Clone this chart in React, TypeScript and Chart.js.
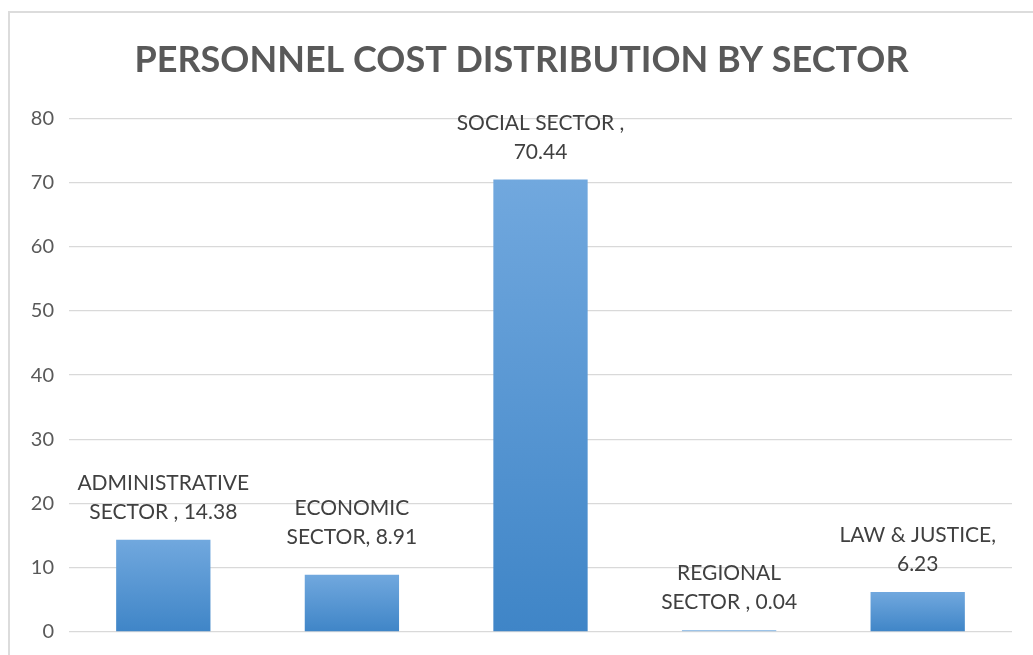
import { useEffect, useRef } from "react";
import { Chart, registerables } from "chart.js";

Chart.register(...registerables);

const chartTitle = "PERSONNEL COST DISTRIBUTION BY SECTOR";
const categories = ["ADMINISTRATIVE SECTOR", "ECONOMIC SECTOR", "SOCIAL SECTOR", "REGIONAL SECTOR", "LAW & JUSTICE"];
const values = [14.38, 8.91, 70.44, 0.04, 6.23];
const labelLines = [
  ["ADMINISTRATIVE", "SECTOR , 14.38"],
  ["ECONOMIC", "SECTOR, 8.91"],
  ["SOCIAL SECTOR ,", "70.44"],
  ["REGIONAL", "SECTOR , 0.04"],
  ["LAW & JUSTICE,", "6.23"],
];
const labelLift = [0, 10, 0, 0, 0];
const yMin = 0;
const yMax = 80;
const yStep = 10;

const FONT = "Lato, 'Open Sans', sans-serif";

const dataLabelPlugin = {
  id: "dataLabels",
  afterDatasetsDraw(chart: any) {
    const ctx = chart.ctx;
    const meta = chart.getDatasetMeta(0);
    const zeroY = chart.scales.y.getPixelForValue(0);
    ctx.save();
    ctx.font = `21px ${FONT}`;
    ctx.fillStyle = "#404040";
    ctx.textAlign = "center";
    ctx.textBaseline = "alphabetic";
    meta.data.forEach((bar: any, i: number) => {
      const lines = labelLines[i];
      const top = Math.min(bar.y, zeroY);
      const base = top - 21 - labelLift[i];
      lines.forEach((line, j) => {
        const y = base - (lines.length - 1 - j) * 29;
        ctx.fillText(line, bar.x, y);
      });
    });
    ctx.restore();
  },
};

export default function App() {
  const ref = useRef<HTMLCanvasElement | null>(null);

  useEffect(() => {
    if (!ref.current) return;
    const chart = new Chart(ref.current, {
      type: "bar",
      data: {
        labels: categories,
        datasets: [
          {
            data: values,
            backgroundColor: (c: any) => {
              const ch = c.chart;
              const ys = ch.scales?.y;
              if (!ys || c.type !== "data") return "#5b9bd5";
              const top = ys.getPixelForValue(c.parsed?.y ?? values[c.dataIndex]);
              const bottom = ys.getPixelForValue(0);
              if (!isFinite(top) || !isFinite(bottom) || bottom - top < 1) return "#9cc3e8";
              const g = ch.ctx.createLinearGradient(0, top, 0, bottom);
              g.addColorStop(0, "#71a8de");
              g.addColorStop(1, "#3f85c7");
              return g;
            },
            borderWidth: 0,
            minBarLength: 2,
            barPercentage: 0.5,
            categoryPercentage: 1,
          },
        ],
      },
      options: {
        animation: false,
        responsive: false,
        maintainAspectRatio: false,
        layout: { padding: { left: 21, right: 21, top: 0, bottom: 23 } },
        plugins: {
          legend: { display: false },
          tooltip: { enabled: false },
          title: {
            display: true,
            text: chartTitle,
            color: "#595959",
            font: { family: FONT, size: 36, weight: "bold" },
            padding: { top: 26, bottom: 36 },
          },
        },
        scales: {
          x: { display: false },
          y: {
            min: yMin,
            max: yMax,
            ticks: {
              stepSize: yStep,
              color: "#595959",
              font: { family: FONT, size: 20 },
              padding: 15,
            },
            grid: { color: "#d9d9d9", lineWidth: 1.3, drawTicks: false },
            border: { display: false },
            afterFit: (s: any) => {
              s.width = 38;
              s.paddingTop = 0;
              s.paddingBottom = 0;
            },
          },
        },
      },
      plugins: [dataLabelPlugin],
    });
    return () => chart.destroy();
  }, []);

  return (
    <div
      style={{
        position: "absolute",
        left: 8,
        top: 11,
        width: 1025,
        height: 644,
        boxSizing: "border-box",
        borderTop: "2px solid #dcdcdc",
        borderLeft: "2px solid #dcdcdc",
        background: "#fff",
      }}
    >
      <canvas ref={ref} width={1023} height={642} style={{ display: "block", width: 1023, height: 642 }} />
    </div>
  );
}
